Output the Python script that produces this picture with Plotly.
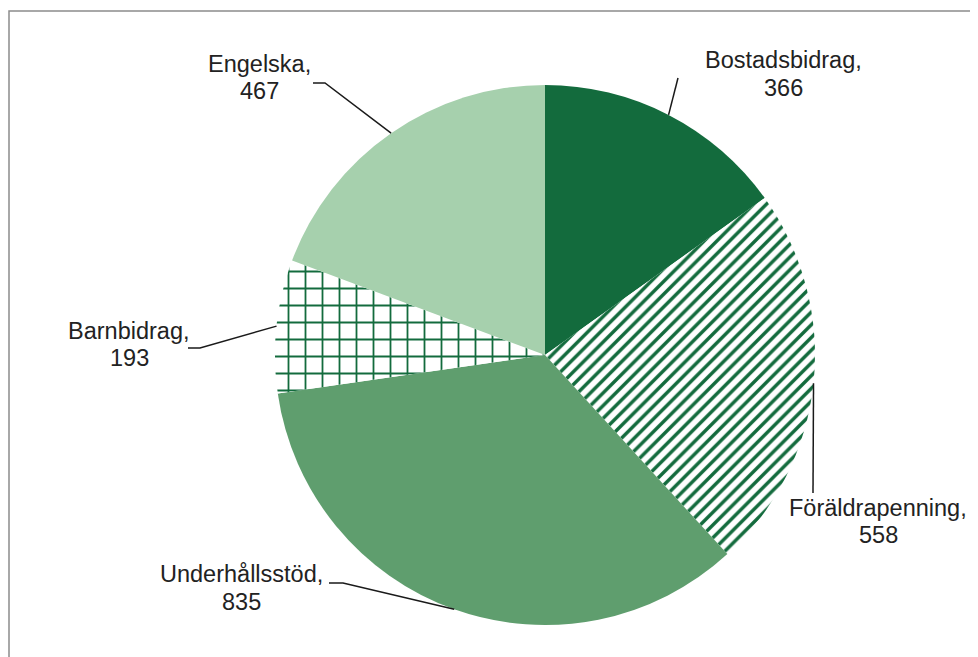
import math
import plotly.graph_objects as go

# ---- data ----
categories = ["Bostadsbidrag", "Föräldrapenning", "Underhållsstöd", "Barnbidrag", "Engelska"]
values = [366, 558, 835, 193, 467]

# ---- style / layout ----
OFF = 8                            # page body margin in px
W, H = 978 - OFF, 657 - OFF
CX, CY, R = 545, 355, 270          # pie centre and radius in screen px
slice_colors = ["#136b3d", "#ffffff", "#5f9e6e", "#ffffff", "#a6d0ad"]
pattern_shapes = ["", "/", "", "+", ""]
pattern_bg = ["#136b3d", "#ffffff", "#5f9e6e", "#ffffff", "#a6d0ad"]
pattern_fg = ["#136b3d", "#136b3d", "#5f9e6e", "#136b3d", "#a6d0ad"]
pattern_size = [10, 9, 10, 17, 10]
pattern_solid = [0.3, 0.38, 0.3, 0.2, 0.3]
FONT = dict(family="Liberation Sans, Arial, sans-serif", size=23.5, color="#222222")

# label line centres (screen px): (x, y of line 1, y of line 2)
label_pos = {
    "Bostadsbidrag": (783, 60, 88),
    "Föräldrapenning": (878, 508, 535),
    "Underhållsstöd": (241, 574, 602),
    "Barnbidrag": (129, 331, 358),
    "Engelska": (259, 64, 91),
}
# leader-line elbow points (screen px)
leader_pts = {
    "Bostadsbidrag": [(678, 78)],
    "Föräldrapenning": [(813, 493)],
    "Underhållsstöd": [(343, 583), (329, 583)],
    "Barnbidrag": [(200, 348), (188, 348)],
    "Engelska": [(325, 83), (313, 83)],
}


def px(x, y):
    return (x - OFF) / W, 1 - (y - OFF) / H


fig = go.Figure(go.Pie(
    labels=categories,
    values=values,
    sort=False,
    direction="clockwise",
    rotation=0,
    textinfo="none",
    hoverinfo="label+value",
    showlegend=False,
    marker=dict(
        colors=slice_colors,
        line=dict(width=0),
        pattern=dict(shape=pattern_shapes, bgcolor=pattern_bg, fgcolor=pattern_fg,
                     size=pattern_size, solidity=pattern_solid, fillmode="replace"),
    ),
    domain=dict(x=[px(CX - R, 0)[0], px(CX + R, 0)[0]],
                y=[px(0, CY + R)[1], px(0, CY - R)[1]]),
))

shapes = []
annotations = []
total = sum(values)
cum = 0
for cat, v in zip(categories, values):
    mid = (cum + v / 2) / total * 2 * math.pi
    cum += v
    ex, ey = CX + R * math.sin(mid), CY - R * math.cos(mid)
    pts = [(ex, ey)] + leader_pts[cat]
    path = "M " + " L ".join(f"{px(a, b)[0]:.5f},{px(a, b)[1]:.5f}" for a, b in pts)
    shapes.append(dict(type="path", path=path, xref="paper", yref="paper",
                       line=dict(color="#1a1a1a", width=1.5)))
    lx, ly1, ly2 = label_pos[cat]
    for txt, ly in ((f"{cat},", ly1), (f"{v}", ly2)):
        ax_, ay_ = px(lx, ly)
        annotations.append(dict(x=ax_, y=ay_, xref="paper", yref="paper", text=txt,
                                showarrow=False, xanchor="center", yanchor="middle",
                                align="center", font=FONT))

# outer frame (left edge kept just inside the drawable area)
fx0, fy0 = px(OFF + 1, 11)
fx1, fy1 = px(1000, 680)
shapes.append(dict(type="rect", xref="paper", yref="paper", x0=fx0, y0=fy1, x1=fx1, y1=fy0,
                   line=dict(color="#8c8c8c", width=1.5), fillcolor="rgba(0,0,0,0)"))

fig.update_layout(
    width=W, height=H,
    margin=dict(l=0, r=0, t=0, b=0),
    paper_bgcolor="white", plot_bgcolor="white",
    shapes=shapes, annotations=annotations,
)

fig.write_html("out.html")
